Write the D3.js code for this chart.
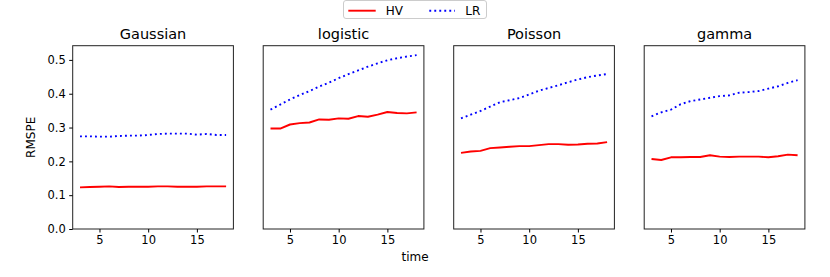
<!DOCTYPE html>
<html>
<head>
<meta charset="utf-8">
<script src="https://cdn.jsdelivr.net/npm/d3@7"></script>
<style>
  body { margin: 0; background: #fff; }
  svg text { font-family: "DejaVu Sans", sans-serif; fill: #000; }
</style>
</head>
<body>
<div id="chart"></div>
<script>
const panelNames = ['Gaussian', 'logistic', 'Poisson', 'gamma'];
const time = [3, 4, 5, 6, 7, 8, 9, 10, 11, 12, 13, 14, 15, 16, 17, 18];

// HV series, one per panel
const hvGaussian = [0.123, 0.124, 0.125, 0.126, 0.124, 0.125, 0.125, 0.125, 0.126, 0.126, 0.125, 0.125, 0.125, 0.126, 0.126, 0.126];
const hvLogistic = [0.297, 0.297, 0.309, 0.313, 0.315, 0.324, 0.323, 0.327, 0.326, 0.334, 0.332, 0.338, 0.346, 0.343, 0.342, 0.345];
const hvPoisson  = [0.225, 0.229, 0.231, 0.239, 0.241, 0.243, 0.245, 0.245, 0.248, 0.251, 0.251, 0.249, 0.250, 0.252, 0.253, 0.257];
const hvGamma    = [0.207, 0.204, 0.212, 0.212, 0.213, 0.213, 0.218, 0.214, 0.213, 0.214, 0.214, 0.214, 0.212, 0.215, 0.220, 0.218];

// LR series, one per panel
const lrGaussian = [0.274, 0.274, 0.273, 0.273, 0.275, 0.276, 0.276, 0.278, 0.281, 0.282, 0.282, 0.282, 0.279, 0.281, 0.278, 0.278];
const lrLogistic = [0.353, 0.368, 0.383, 0.396, 0.408, 0.421, 0.433, 0.446, 0.458, 0.469, 0.480, 0.490, 0.499, 0.505, 0.510, 0.514];
const lrPoisson  = [0.327, 0.338, 0.349, 0.362, 0.375, 0.381, 0.387, 0.398, 0.409, 0.417, 0.425, 0.434, 0.442, 0.449, 0.454, 0.458];
const lrGamma    = [0.333, 0.345, 0.353, 0.369, 0.378, 0.383, 0.388, 0.393, 0.395, 0.403, 0.405, 0.408, 0.415, 0.422, 0.432, 0.440];

const hvSeries = [hvGaussian, hvLogistic, hvPoisson, hvGamma];
const lrSeries = [lrGaussian, lrLogistic, lrPoisson, lrGamma];
const xTicks = [5, 10, 15];
const yTicks = [0.0, 0.1, 0.2, 0.3, 0.4, 0.5];

const W = 830, H = 277;
const plotTop = 45.7, plotBottom = 229;
const firstLeft = 72.7, panelW = 160.7, step = 190.5;

const svg = d3.select('#chart').append('svg')
  .attr('width', W).attr('height', H);

const y = d3.scaleLinear().domain([0, 0.542]).range([plotBottom, plotTop]);

panelNames.forEach(function(name, i) {
  const left = firstLeft + i * step;
  const x = d3.scaleLinear().domain([2.25, 18.75]).range([left, left + panelW]);
  const g = svg.append('g');

  const line = d3.line()
    .x(function(d, j) { return x(time[j]); })
    .y(function(d) { return y(d); });

  g.append('path')
    .datum(hvSeries[i])
    .attr('d', line)
    .attr('fill', 'none')
    .attr('stroke', '#ff0000')
    .attr('stroke-width', 1.9)
    .attr('stroke-linejoin', 'round');

  g.append('path')
    .datum(lrSeries[i])
    .attr('d', line)
    .attr('fill', 'none')
    .attr('stroke', '#0000ff')
    .attr('stroke-width', 1.9)
    .attr('stroke-dasharray', '1.9,3.1');

  // frame
  g.append('rect')
    .attr('x', left).attr('y', plotTop)
    .attr('width', panelW).attr('height', plotBottom - plotTop)
    .attr('fill', 'none').attr('stroke', '#222').attr('stroke-width', 1);

  // x axis
  const xAxis = g.append('g')
    .attr('transform', 'translate(0,' + plotBottom + ')')
    .call(d3.axisBottom(x).tickValues(xTicks).tickSize(3.5).tickPadding(3.5));
  xAxis.select('.domain').remove();
  xAxis.selectAll('text').style('font-size', '11.5px');

  if (i === 0) {
    const yAxis = g.append('g')
      .attr('transform', 'translate(' + left + ',0)')
      .call(d3.axisLeft(y).tickValues(yTicks).tickFormat(d3.format('.1f')).tickSize(3.5).tickPadding(3.5));
    yAxis.select('.domain').remove();
    yAxis.selectAll('text').style('font-size', '11.5px');
  }

  g.append('text')
    .attr('x', left + panelW / 2)
    .attr('y', 38.5)
    .attr('text-anchor', 'middle')
    .style('font-size', '14.5px')
    .text(name);
});

// axis labels
svg.append('text')
  .attr('x', 415).attr('y', 261)
  .attr('text-anchor', 'middle')
  .style('font-size', '12px')
  .text('time');

svg.append('text')
  .attr('transform', 'translate(35,' + ((plotTop + plotBottom) / 2) + ') rotate(-90)')
  .attr('text-anchor', 'middle')
  .style('font-size', '12px')
  .text('RMSPE');

// legend
const legend = svg.append('g');
legend.append('rect')
  .attr('x', 343.5).attr('y', 0.5)
  .attr('width', 143).attr('height', 18)
  .attr('rx', 2.5)
  .attr('fill', '#fff').attr('stroke', '#cccccc').attr('stroke-width', 1);
legend.append('line')
  .attr('x1', 348.3).attr('x2', 375.7).attr('y1', 10.7).attr('y2', 10.7)
  .attr('stroke', '#ff0000').attr('stroke-width', 1.9);
legend.append('text')
  .attr('x', 385.7).attr('y', 15)
  .style('font-size', '12px')
  .text('HV');
legend.append('line')
  .attr('x1', 429.3).attr('x2', 455).attr('y1', 10.7).attr('y2', 10.7)
  .attr('stroke', '#0000ff').attr('stroke-width', 1.9)
  .attr('stroke-dasharray', '1.9,3.1');
legend.append('text')
  .attr('x', 465.3).attr('y', 15)
  .style('font-size', '12px')
  .text('LR');
</script>
</body>
</html>
